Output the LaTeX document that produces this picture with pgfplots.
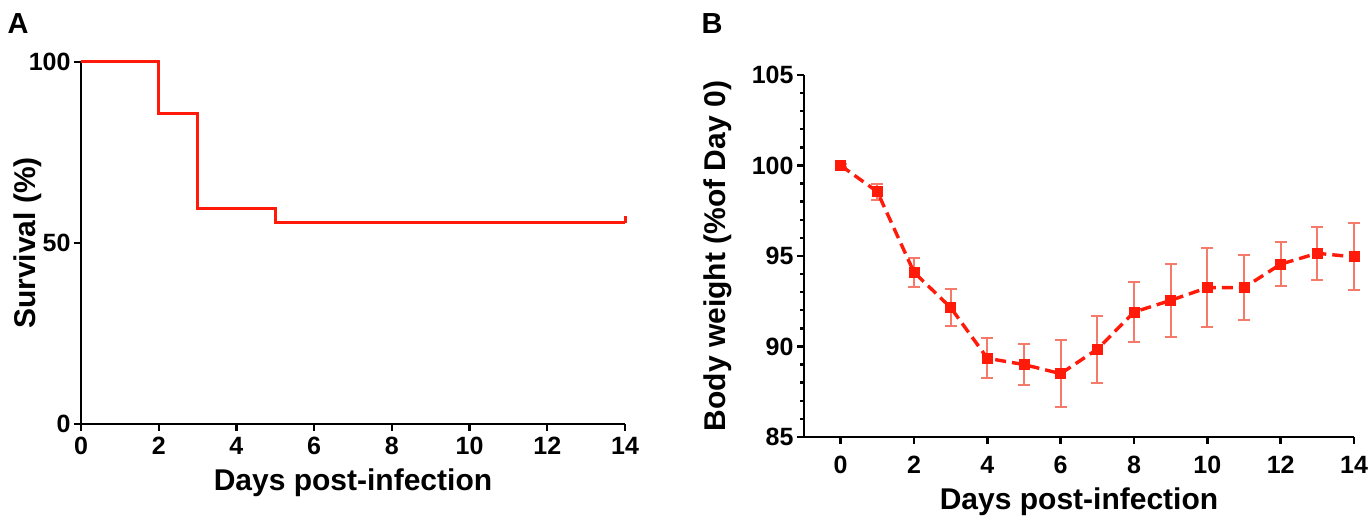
\documentclass[border=0pt]{standalone}
\usepackage{fontspec}
\setmainfont{Liberation Sans}
\usepackage{pgfplots}
\pgfplotsset{compat=1.18}
\definecolor{bred}{HTML}{FF1A0A}
\definecolor{ered}{HTML}{F57A6A}
\begin{document}
\begin{tikzpicture}
\useasboundingbox (0pt,0pt) rectangle (1372pt,521pt);
\pgfplotsset{
  myax/.style={
    scale only axis,
    anchor=south west,
    axis x line*=bottom,
    axis y line*=left,
    axis line style={line width=2.8pt,black},
    tick style={line width=2.4pt,black},
    tick align=outside,
    major tick length=7pt,
    minor tick length=4pt,
    /pgf/number format/assume math mode=true,
    ticklabel style={font=\fontsize{25}{30}\selectfont\bfseries},
    label style={font=\fontsize{30}{36}\selectfont\bfseries},
    clip=false,
  }
}
% Panel A
\begin{axis}[myax,
  at={(81pt,97pt)}, width=544pt, height=362pt,
  xmin=0, xmax=14, ymin=0, ymax=100,
  xtick={0,2,...,14}, ytick={0,50,100},
  xlabel={Days post-infection}, ylabel={Survival (\%)},
  xlabel style={at={(axis description cs:0.5,0)},anchor=center,yshift=-59pt},
  ylabel style={at={(axis description cs:0,0.5)},anchor=center,rotate=0,yshift=53pt},
  xticklabel style={yshift=-3pt},
]
\addplot[const plot, color=bred, line width=3pt] coordinates {
  (0,100) (2,85.7) (3,59.4) (5,55.6) (14,55.6)
};
\addplot[color=bred, line width=3pt] coordinates {(14,55.6) (14,57.4)};
\end{axis}
% Panel B
\begin{axis}[myax,
  at={(804pt,84pt)}, width=550pt, height=362pt,
  xmin=-1, xmax=14, ymin=85, ymax=105,
  xtick={0,2,...,14}, ytick={85,90,...,105},
  minor y tick num=4,
  xlabel={Days post-infection}, ylabel={Body weight (\%of Day 0)},
  xlabel style={at={(axis description cs:0.5,0)},anchor=center,yshift=-65pt},
  ylabel style={at={(axis description cs:0,0.5)},anchor=center,yshift=86pt},
  xticklabel style={yshift=-9pt},
]
\addplot[draw=none, mark=none, forget plot,
  error bars/.cd, y dir=both, y explicit,
  error bar style={color=ered, line width=2pt},
  error mark options={rotate=90, mark size=6pt, line width=2pt, color=ered}]
  table[x=d, y=w, y error=e] {
d w e
0 100.0 0.1
1 98.55 0.45
2 94.1 0.8
3 92.15 1.0
4 89.35 1.1
5 89.0 1.15
6 88.5 1.85
7 89.85 1.85
8 91.9 1.65
9 92.55 2.0
10 93.25 2.2
11 93.25 1.8
12 94.55 1.2
13 95.15 1.45
14 94.95 1.85
};
\addplot[color=bred, line width=3.4pt, dash pattern=on 11pt off 6pt,
  mark=square*, mark size=5pt, mark options={solid, fill=bred, draw=bred, line width=1pt}]
  table[x=d, y=w] {
d w
0 100.0
1 98.55
2 94.1
3 92.15
4 89.35
5 89.0
6 88.5
7 89.85
8 91.9
9 92.55
10 93.25
11 93.25
12 94.55
13 95.15
14 94.95
};
\end{axis}
\node[font=\fontsize{29}{34}\selectfont\bfseries] at (18pt,497pt) {A};
\node[font=\fontsize{29}{34}\selectfont\bfseries] at (712pt,497pt) {B};
\end{tikzpicture}
\end{document}
